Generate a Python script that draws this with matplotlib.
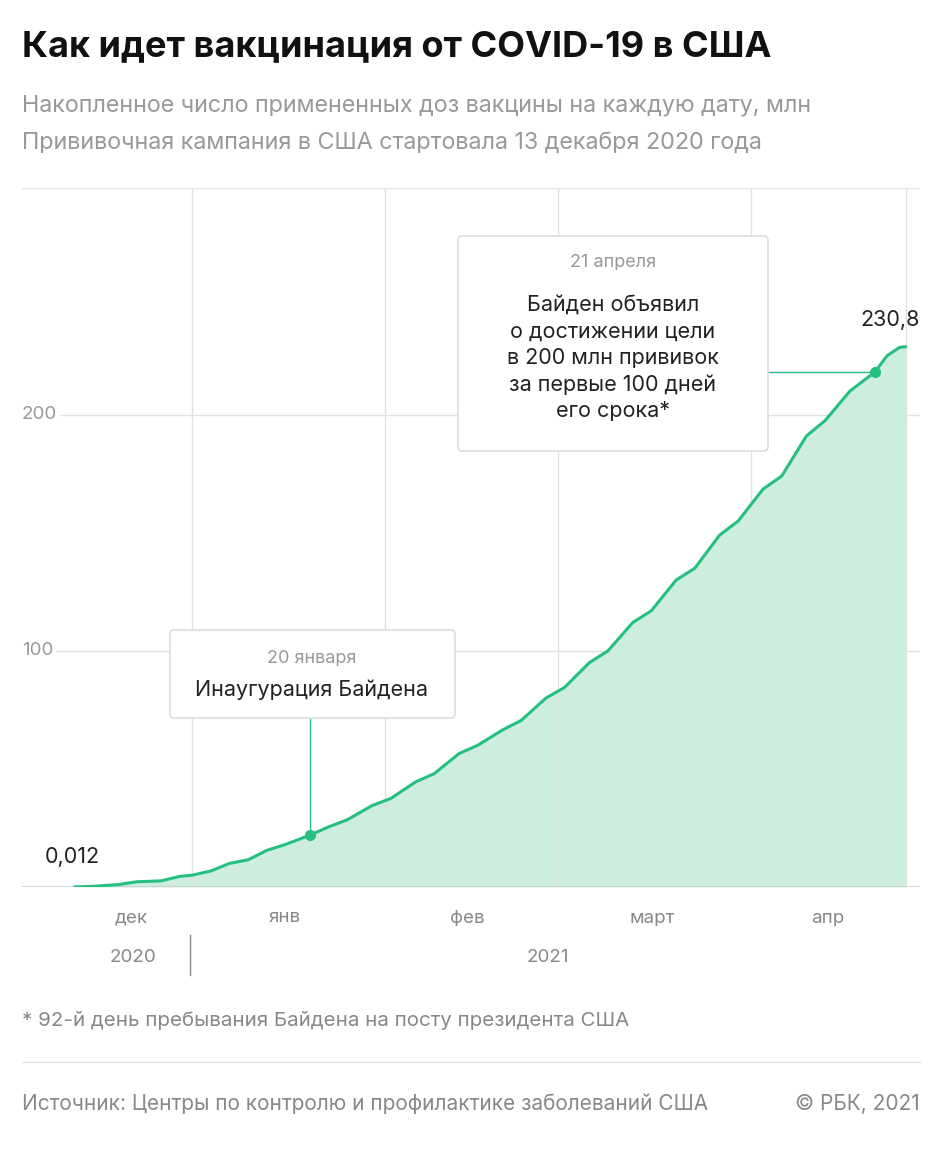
import matplotlib.pyplot as plt
import numpy as np
from matplotlib.patches import FancyBboxPatch

plt.rcParams['font.family'] = ['Inter', 'DejaVu Sans']

# days since 13 Dec 2020, cumulative doses (mln)
days = [0, 3, 7, 10, 14, 17, 19, 22, 25, 28, 31, 34, 38, 41, 44, 48, 51, 55, 58,
        62, 65, 69, 72, 76, 79, 83, 86, 90, 93, 97, 100, 104, 107, 111, 114, 118,
        121, 125, 129, 131, 133, 134]
doses = [0.012, 0.3, 1.0, 2.2, 2.6, 4.5, 5.0, 6.8, 10.0, 11.5, 15.5, 18.0, 22.0,
         25.5, 28.5, 34.5, 37.5, 44.5, 48.0, 56.5, 60.0, 66.5, 70.5, 80.0, 84.5,
         95.0, 100.0, 112.0, 117.0, 130.0, 135.0, 149.0, 155.0, 168.5, 174.0,
         191.0, 197.5, 210.0, 218.0, 225.0, 228.5, 228.8]
month_days = [19, 50, 78, 109, 134]
month_labels = ['дек', 'янв', 'фев', 'март', 'апр']
month_label_days = [9.1, 33.9, 63.3, 93.1, 121.5]

W, H = 945, 1150
fig = plt.figure(figsize=(W / 100, H / 100), dpi=100)

def fx(px): return px / W
def fy(py): return 1 - py / H

x0d, xd = -8.45, 136.3
ax = fig.add_axes([fx(22), fy(887), fx(920) - fx(22), fy(188) - fy(887)])
ax.set_xlim(x0d, xd)
ax.set_ylim(0, 296)
for s in ax.spines.values():
    s.set_visible(False)
ax.set_xticks([]); ax.set_yticks([])

def dpx(d): return 22 + (d - x0d) / (xd - x0d) * 898

grid = '#e2e2e2'
ax.axhline(296, color=grid, lw=1)
for v in [100, 200]:
    ax.axhline(v, color=grid, lw=1, zorder=1)
    ax.text(x0d, v, str(v), color='#999999', fontsize=13.5, va='center', ha='left',
            bbox=dict(fc='white', ec='none', pad=2), zorder=4)
for d in month_days:
    ax.axvline(d, color='#d8e6df', lw=1, zorder=1.5)
ax.axhline(0, color='#cccccc', lw=1.2, zorder=2)

green = '#25bf80'
ax.fill_between(days, doses, color='#cdeedf', lw=0, zorder=1.2)
ax.plot(days, doses, color=green, lw=2.2, solid_capstyle='round', zorder=3)

# annotations
ax.plot([38, 38], [22, 71], color=green, lw=1, zorder=3)
ax.plot(38, 22, 'o', color=green, ms=7, zorder=3)
ax.plot([111, 129], [218, 218], color=green, lw=1, zorder=3)
ax.plot(129, 218, 'o', color=green, ms=7, zorder=3)

for bx0, by0, bx1, by1 in [(170, 630, 455, 718), (458, 236, 768, 451)]:
    fig.patches.append(FancyBboxPatch((fx(bx0), fy(by1)), fx(bx1) - fx(bx0), fy(by0) - fy(by1),
                                      boxstyle='round,pad=0,rounding_size=0.004',
                                      transform=fig.transFigure, fc='white', ec='#dddddd', lw=1.2))

fig.text(fx(312), fy(658), '20 января', ha='center', va='center', fontsize=13, color='#999999')
fig.text(fx(312), fy(690), 'Инаугурация Байдена', ha='center', va='center', fontsize=15.5, color='#222222')
fig.text(fx(613), fy(263), '21 апреля', ha='center', va='center', fontsize=13, color='#999999')
fig.text(fx(613), fy(358), 'Байден объявил\nо достижении цели\nв 200 млн прививок\nза первые 100 дней\nего срока*',
         ha='center', va='center', fontsize=15.5, color='#222222', linespacing=1.4)
fig.text(fx(45), fy(857), '0,012', ha='left', va='center', fontsize=15.5, color='#222222')
fig.text(fx(920), fy(320), '230,8', ha='right', va='center', fontsize=15.5, color='#222222')

# x labels
for d, lab in zip(month_label_days, month_labels):
    fig.text(fx(dpx(d)), fy(918), lab, ha='center', va='center', fontsize=13.5, color='#888888')
fig.text(fx(133), fy(957), '2020', ha='center', va='center', fontsize=13.5, color='#888888')
fig.text(fx(548), fy(957), '2021', ha='center', va='center', fontsize=13.5, color='#888888')
fig.add_artist(plt.Line2D([fx(190), fx(190)], [fy(935), fy(975)], color='#888888', lw=1))

fig.text(fx(22), fy(47), 'Как идет вакцинация от COVID-19 в США', fontsize=26, fontweight='bold',
         color='#111111', va='center')
fig.text(fx(22), fy(106), 'Накопленное число примененных доз вакцины на каждую дату, млн',
         fontsize=16.8, color='#999999', va='center')
fig.text(fx(22), fy(143), 'Прививочная кампания в США стартовала 13 декабря 2020 года',
         fontsize=16.8, color='#999999', va='center')
fig.text(fx(22), fy(1020), '* 92-й день пребывания Байдена на посту президента США',
         fontsize=14.8, color='#888888', va='center')
fig.add_artist(plt.Line2D([fx(22), fx(920)], [fy(1062), fy(1062)], color='#e2e2e2', lw=1))
fig.text(fx(22), fy(1104), 'Источник: Центры по контролю и профилактике заболеваний США',
         fontsize=15, color='#888888', va='center')
fig.text(fx(920), fy(1104), '© РБК, 2021', fontsize=15, color='#888888', va='center', ha='right')

fig.savefig('out.png', dpi=100, facecolor='white')
